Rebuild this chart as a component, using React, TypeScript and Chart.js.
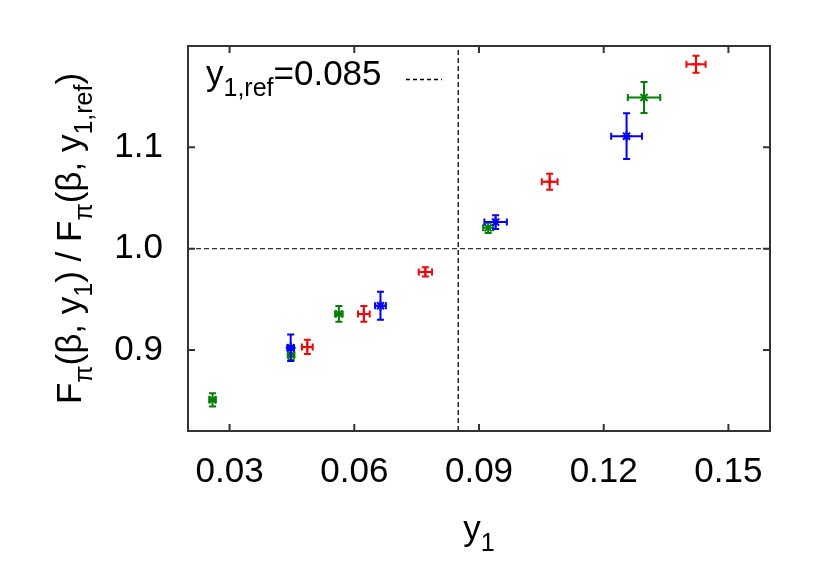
import React, { useEffect, useRef } from 'react';
import { Chart, registerables } from 'chart.js';
Chart.register(...registerables);

// ---- data ----
const xTicks = [0.03, 0.06, 0.09, 0.12, 0.15];
const yTicks = [0.9, 1.0, 1.1];
const xMin = 0.02;
const xMax = 0.16;
const yMin = 0.82;
const yMax = 1.2;
const refY1 = 0.085;
const unity = 1.0;

const redX = [0.0487, 0.0623, 0.0771, 0.107, 0.1422];
const redY = [0.903, 0.9356, 0.977, 1.066, 1.182];
const redXErr = [0.0013, 0.0014, 0.0016, 0.0019, 0.0023];
const redYErr = [0.0071, 0.0077, 0.0046, 0.0078, 0.0083];

const greenX = [0.0259, 0.0448, 0.0563, 0.0922, 0.1297];
const greenY = [0.8508, 0.8951, 0.9356, 1.0205, 1.1492];
const greenXErr = [0.0008, 0.0008, 0.0009, 0.0012, 0.0039];
const greenYErr = [0.0065, 0.005, 0.0078, 0.005, 0.0153];

const blueX = [0.0447, 0.0663, 0.094, 0.1255];
const blueY = [0.9021, 0.9437, 1.0262, 1.111];
const blueXErr = [0.0008, 0.0013, 0.0027, 0.0037];
const blueYErr = [0.0131, 0.0138, 0.0068, 0.0226];

const FONT = '"Liberation Sans", Arial, Helvetica, sans-serif';
const MAIN = 35;
const SUB = 25;
const SUBDY = 11;

type Seg = { t: string; sub?: boolean };

function segsWidth(ctx: CanvasRenderingContext2D, segs: Seg[]) {
  let w = 0;
  for (const s of segs) {
    ctx.font = `${s.sub ? SUB : MAIN}px ${FONT}`;
    w += ctx.measureText(s.t).width;
  }
  return w;
}
function drawSegs(ctx: CanvasRenderingContext2D, segs: Seg[], x: number, y: number) {
  let cx = x;
  ctx.textAlign = 'left';
  ctx.textBaseline = 'alphabetic';
  for (const s of segs) {
    ctx.font = `${s.sub ? SUB : MAIN}px ${FONT}`;
    ctx.fillText(s.t, cx, y + (s.sub ? SUBDY : 0));
    cx += ctx.measureText(s.t).width;
  }
}

const errs: Record<string, { xe: number[]; ye: number[] }> = {
  red: { xe: redXErr, ye: redYErr },
  green: { xe: greenXErr, ye: greenYErr },
  blue: { xe: blueXErr, ye: blueYErr },
};

const decorPlugin = {
  id: 'decor',
  beforeDatasetDraw(chart: any, args: any) {
    const ds = chart.data.datasets[args.index];
    const e = errs[ds.label];
    if (!e) return;
    const xs = chart.scales.x;
    const ys = chart.scales.y;
    const ctx = chart.ctx;
    const cap = 3.5;
    ctx.save();
    ctx.strokeStyle = ds.borderColor;
    ctx.lineWidth = 2;
    ds.data.forEach((p: any, i: number) => {
      const px = xs.getPixelForValue(p.x);
      const py = ys.getPixelForValue(p.y);
      const x0 = xs.getPixelForValue(p.x - e.xe[i]);
      const x1 = xs.getPixelForValue(p.x + e.xe[i]);
      const y0 = ys.getPixelForValue(p.y - e.ye[i]);
      const y1 = ys.getPixelForValue(p.y + e.ye[i]);
      ctx.beginPath();
      ctx.moveTo(x0, py); ctx.lineTo(x1, py);
      ctx.moveTo(x0, py - cap); ctx.lineTo(x0, py + cap);
      ctx.moveTo(x1, py - cap); ctx.lineTo(x1, py + cap);
      ctx.moveTo(px, y0); ctx.lineTo(px, y1);
      ctx.moveTo(px - cap, y0); ctx.lineTo(px + cap, y0);
      ctx.moveTo(px - cap, y1); ctx.lineTo(px + cap, y1);
      ctx.stroke();
    });
    ctx.restore();
  },
  afterDraw(chart: any) {
    const ctx: CanvasRenderingContext2D = chart.ctx;
    const a = chart.chartArea;
    const xs = chart.scales.x;
    const ys = chart.scales.y;
    ctx.save();
    // frame
    ctx.strokeStyle = '#333';
    ctx.lineWidth = 2;
    ctx.strokeRect(a.left, a.top, a.right - a.left, a.bottom - a.top);
    // inward ticks
    const tl = 7;
    ctx.beginPath();
    xTicks.forEach((v) => {
      const p = xs.getPixelForValue(v);
      ctx.moveTo(p, a.bottom); ctx.lineTo(p, a.bottom - tl);
      ctx.moveTo(p, a.top); ctx.lineTo(p, a.top + tl);
    });
    yTicks.forEach((v) => {
      const p = ys.getPixelForValue(v);
      ctx.moveTo(a.left, p); ctx.lineTo(a.left + tl, p);
      ctx.moveTo(a.right, p); ctx.lineTo(a.right - tl, p);
    });
    ctx.stroke();

    ctx.fillStyle = '#000';
    // legend (key)
    const key: Seg[] = [{ t: 'y' }, { t: '1,ref', sub: true }, { t: '=0.085' }];
    drawSegs(ctx, key, 206, 85);
    ctx.strokeStyle = '#000';
    ctx.lineWidth = 1.3;
    ctx.setLineDash([4, 3]);
    ctx.beginPath();
    ctx.moveTo(406, 79.5); ctx.lineTo(442, 79.5);
    ctx.stroke();
    ctx.setLineDash([]);

    // x title
    const xt: Seg[] = [{ t: 'y' }, { t: '1', sub: true }];
    const xw = segsWidth(ctx, xt);
    drawSegs(ctx, xt, (a.left + a.right) / 2 - xw / 2, 540);

    // y title
    const yt: Seg[] = [
      { t: 'F' }, { t: 'π', sub: true }, { t: '(β, y' }, { t: '1', sub: true },
      { t: ') / F' }, { t: 'π', sub: true }, { t: '(β, y' }, { t: '1,ref', sub: true }, { t: ')' },
    ];
    const yw = segsWidth(ctx, yt);
    ctx.translate(81, (a.top + a.bottom) / 2);
    ctx.rotate(-Math.PI / 2);
    drawSegs(ctx, yt, -yw / 2, 0);
    ctx.restore();
  },
};

function pts(xv: number[], yv: number[]) {
  return xv.map((x, i) => ({ x, y: yv[i] }));
}

export default function App() {
  const ref = useRef<HTMLCanvasElement | null>(null);
  useEffect(() => {
    document.body.style.margin = '0';
    const canvas = ref.current!;
    const chart = new Chart(canvas, {
      type: 'scatter',
      data: {
        datasets: [
          {
            label: 'vref',
            data: [{ x: refY1, y: yMin }, { x: refY1, y: yMax }],
            showLine: true,
            borderColor: '#000',
            borderWidth: 1.3,
            borderDash: [5, 3],
            pointRadius: 0,
            order: 4,
          } as any,
          {
            label: 'href',
            data: [{ x: xMin, y: unity }, { x: xMax, y: unity }],
            showLine: true,
            borderColor: '#333',
            borderWidth: 1.3,
            borderDash: [5, 3],
            pointRadius: 0,
            order: 3,
          } as any,
          {
            label: 'red',
            data: pts(redX, redY),
            pointStyle: 'cross',
            pointRadius: 5,
            borderColor: '#ff0000',
            backgroundColor: '#ff0000',
            borderWidth: 2,
            order: 2,
          },
          {
            label: 'green',
            data: pts(greenX, greenY),
            pointStyle: 'crossRot',
            pointRadius: 5,
            borderColor: '#008000',
            backgroundColor: '#008000',
            borderWidth: 2,
            order: 1,
          },
          {
            label: 'blue',
            data: pts(blueX, blueY),
            pointStyle: 'star',
            pointRadius: 5,
            borderColor: '#0000ff',
            backgroundColor: '#0000ff',
            borderWidth: 2,
            order: 0,
          },
        ],
      },
      options: {
        animation: false,
        responsive: true,
        maintainAspectRatio: false,
        layout: { padding: { left: 0, top: 41, right: 52, bottom: 0 } },
        plugins: { legend: { display: false }, tooltip: { enabled: false } },
        scales: {
          x: {
            type: 'linear',
            min: xMin,
            max: xMax,
            afterBuildTicks: (s: any) => { s.ticks = xTicks.map((v) => ({ value: v })); },
            afterFit: (s: any) => { s.height = 145; },
            grid: { display: false, drawTicks: false },
            border: { display: false },
            ticks: {
              padding: 20,
              color: '#000',
              font: { family: FONT, size: MAIN },
              maxRotation: 0,
              autoSkip: false,
              callback: (v: any) => Number(v).toFixed(2),
            },
          },
          y: {
            type: 'linear',
            min: yMin,
            max: yMax,
            afterBuildTicks: (s: any) => { s.ticks = yTicks.map((v) => ({ value: v })); },
            afterFit: (s: any) => { s.width = 188; },
            grid: { display: false, drawTicks: false },
            border: { display: false },
            ticks: {
              padding: 25,
              color: '#000',
              font: { family: FONT, size: MAIN },
              autoSkip: false,
              callback: (v: any) => Number(v).toFixed(1),
            },
          },
        },
      },
      plugins: [decorPlugin],
    });
    return () => chart.destroy();
  }, []);
  return (
    <div style={{ width: 822, height: 576, position: 'relative', background: '#fff' }}>
      <canvas ref={ref} />
    </div>
  );
}
